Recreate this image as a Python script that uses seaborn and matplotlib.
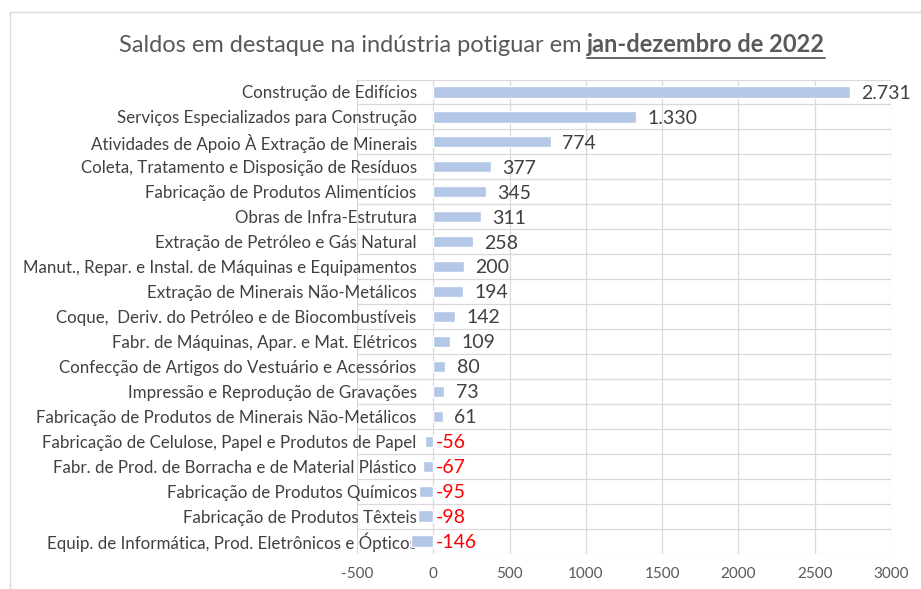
import numpy as np
import pandas as pd
import matplotlib
matplotlib.use("Agg")
import matplotlib.pyplot as plt
import seaborn as sns
from matplotlib.patches import Rectangle
from matplotlib.lines import Line2D

# Dados do gráfico
setores = [
    "Construção de Edifícios",
    "Serviços Especializados para Construção",
    "Atividades de Apoio À Extração de Minerais",
    "Coleta, Tratamento e Disposição de Resíduos",
    "Fabricação de Produtos Alimentícios",
    "Obras de Infra-Estrutura",
    "Extração de Petróleo e Gás Natural",
    "Manut., Repar. e Instal. de Máquinas e Equipamentos",
    "Extração de Minerais Não-Metálicos",
    "Coque,  Deriv. do Petróleo e de Biocombustíveis",
    "Fabr. de Máquinas, Apar. e Mat. Elétricos",
    "Confecção de Artigos do Vestuário e Acessórios",
    "Impressão e Reprodução de Gravações",
    "Fabricação de Produtos de Minerais Não-Metálicos",
    "Fabricação de Celulose, Papel e Produtos de Papel",
    "Fabr. de Prod. de Borracha e de Material Plástico",
    "Fabricação de Produtos Químicos",
    "Fabricação de Produtos Têxteis",
    "Equip. de Informática, Prod. Eletrônicos e Ópticos",
]
saldos = [2731, 1330, 774, 377, 345, 311, 258, 200, 194, 142, 109, 80, 73, 61,
          -56, -67, -95, -98, -146]
xticks = [-500, 0, 500, 1000, 1500, 2000, 2500, 3000]

df = pd.DataFrame({"setor": setores, "saldo": saldos})

sns.set_style("white")
plt.rcParams["font.family"] = ["Lato", "DejaVu Sans"]

fig = plt.figure(figsize=(9.21, 5.89), dpi=100)
ax = fig.add_axes([357 / 921, 1 - 553.5 / 589, (891 - 357) / 921, (553.5 - 79.5) / 589])

sns.barplot(data=df, y="setor", x="saldo", orient="h", color="#B4C7E7",
            saturation=1, width=0.45, ax=ax, zorder=2)

ax.set_xlim(-500, 3000)
ax.set_xticks(xticks)
ax.set_xticklabels([str(t) for t in xticks], color="#595959", fontsize=11)
ax.set_ylim(len(setores) - 0.5, -0.5)
ax.set_yticks(np.arange(-0.5, len(setores), 1), minor=True)
ax.grid(True, axis="x", color="#D9D9D9", linewidth=0.9, zorder=0)
ax.grid(True, axis="y", which="minor", color="#D9D9D9", linewidth=0.9, zorder=0)
ax.grid(False, axis="y", which="major")
ax.set_axisbelow(True)
for s in ax.spines.values():
    s.set_visible(False)
ax.tick_params(axis="both", which="both", length=0)
ax.tick_params(axis="y", pad=-43, labelsize=12.2, labelcolor="#404040")
ax.tick_params(axis="x", pad=10)
ax.set_xlabel("")
ax.set_ylabel("")

# rótulos de valor
for i, v in enumerate(saldos):
    if v >= 0:
        txt = f"{v:,}".replace(",", ".")
        ax.annotate(txt, (v, i), xytext=(8, -1), textcoords="offset points",
                    va="center", ha="left", fontsize=14, color="#404040")
    else:
        ax.annotate(str(v), (0, i), xytext=(2, -1), textcoords="offset points",
                    va="center", ha="left", fontsize=14, color="#FF0000")

# moldura do gráfico
fig.patches.append(Rectangle((10 / 921, -0.01), 1.0, 1 - 12 / 589 + 0.01,
                             transform=fig.transFigure, fill=False,
                             edgecolor="#D9D9D9", linewidth=1))

# título com parte em negrito sublinhado
t1 = fig.text(0, 1 - 45 / 589, "Saldos em destaque na indústria potiguar em ",
              fontsize=17, color="#595959", va="center", ha="left")
t2 = fig.text(0, 1 - 45 / 589, "jan-dezembro de 2022", fontsize=17,
              color="#595959", fontweight="bold", va="center", ha="left")
fig.canvas.draw()
r = fig.canvas.get_renderer()
w1 = t1.get_window_extent(r).width
w2 = t2.get_window_extent(r).width
x0 = 472 - (w1 + w2) / 2
t1.set_x(x0 / 921)
t2.set_x((x0 + w1) / 921)
yline = 1 - 58 / 589
fig.lines.append(Line2D([(x0 + w1) / 921, (x0 + w1 + w2) / 921], [yline, yline],
                        transform=fig.transFigure, color="#595959", linewidth=1.3))

fig.savefig("out.png", dpi=100)
